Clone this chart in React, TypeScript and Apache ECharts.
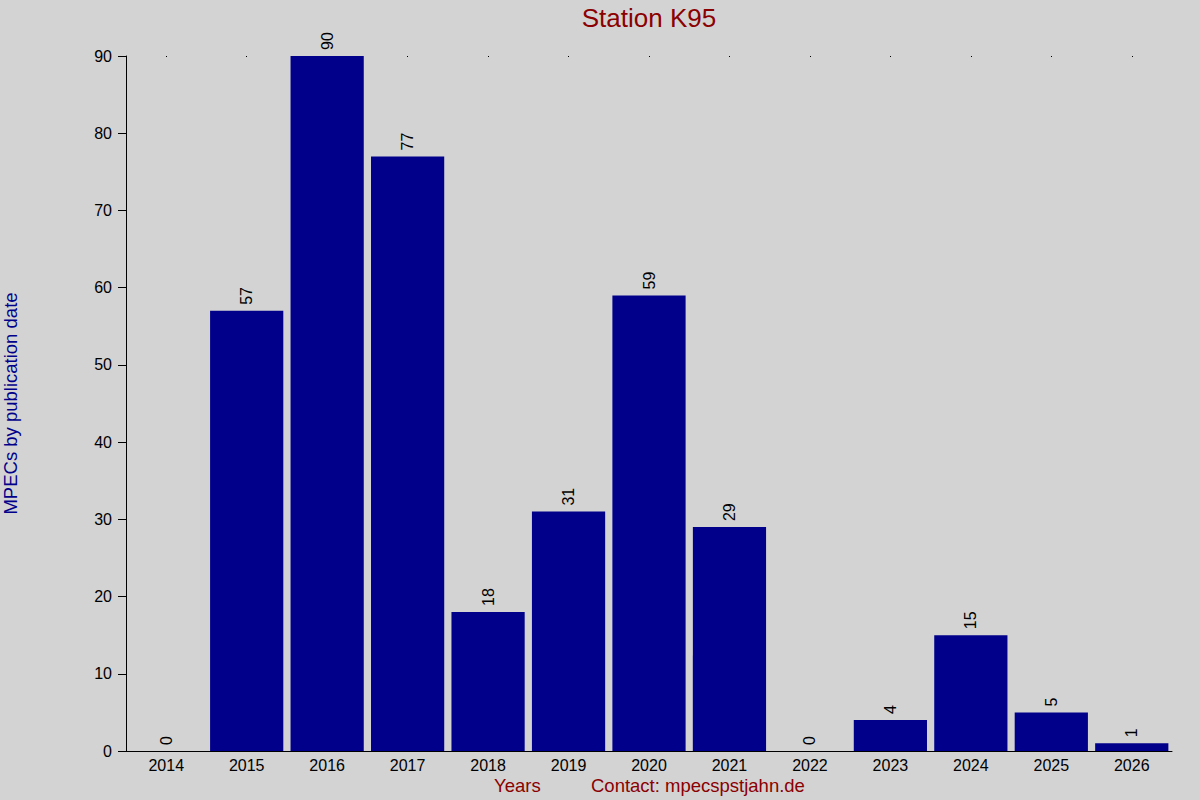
import React, { useEffect, useRef } from "react";
import * as echarts from "echarts";

const years = ["2014","2015","2016","2017","2018","2019","2020","2021","2022","2023","2024","2025","2026"];
const counts = [0, 57, 90, 77, 18, 31, 59, 29, 0, 4, 15, 5, 1];
const yTicks = { min: 0, max: 90, interval: 10 };

const FONT = "'Liberation Sans', Arial, sans-serif";

export default function App() {
  const ref = useRef<HTMLDivElement>(null);
  useEffect(() => {
    if (!ref.current) return;
    const chart = echarts.init(ref.current, null, { renderer: "svg" });
    chart.setOption({
      animation: false,
      backgroundColor: "#D3D3D3",
      textStyle: { fontFamily: FONT },
      title: {
        text: "Station K95",
        left: 644,
        textAlign: "center",
        top: 0,
        textStyle: { color: "#8B0000", fontSize: 26, fontWeight: "normal", fontFamily: FONT },
      },
      grid: { left: 126, right: 28, top: 56, bottom: 49, containLabel: false, outerBoundsMode: "none" },
      xAxis: [
        {
          type: "category",
          data: years,
          position: "bottom",
          axisLine: { show: true, lineStyle: { color: "#000", width: 1 } },
          axisTick: { show: false },
          axisLabel: { color: "#000", fontSize: 16, margin: 6, fontFamily: FONT },
        },
        {
          type: "category",
          data: years,
          position: "top",
          axisLine: { show: false },
          axisTick: { show: true, alignWithLabel: true, length: 1, inside: true, lineStyle: { color: "#000" } },
          axisLabel: { show: false },
        },
      ],
      yAxis: {
        type: "value",
        min: yTicks.min,
        max: yTicks.max,
        interval: yTicks.interval,
        axisLine: { show: true, lineStyle: { color: "#000", width: 1 } },
        axisTick: { show: true, length: 8, lineStyle: { color: "#000" } },
        axisLabel: { color: "#000", fontSize: 16, margin: 14, fontFamily: FONT },
        splitLine: { show: false },
        name: "MPECs by publication date",
        nameLocation: "middle",
        nameRotate: 90,
        nameGap: 106,
        nameTextStyle: { color: "#00008B", fontSize: 18.5, fontFamily: FONT },
      },
      series: [
        {
          type: "bar",
          data: counts,
          xAxisIndex: 0,
          barCategoryGap: "9%",
          itemStyle: { color: "#00008B" },
          label: {
            show: true,
            position: "top",
            rotate: 90,
            align: "left",
            verticalAlign: "middle",
            distance: 6,
            color: "#000",
            fontSize: 16,
            fontFamily: FONT,
          },
        },
      ],
      graphic: [
        {
          type: "text",
          left: 494,
          top: 776,
          style: { text: "Years", fill: "#8B0000", font: `18.5px ${FONT}` },
        },
        {
          type: "text",
          left: 591,
          top: 776,
          style: { text: "Contact: mpecspstjahn.de", fill: "#8B0000", font: `18.5px ${FONT}` },
        },
      ],
    });
    return () => chart.dispose();
  }, []);
  return <div ref={ref} style={{ width: 1200, height: 800, position: "absolute", left: 0, top: 0 }} />;
}
